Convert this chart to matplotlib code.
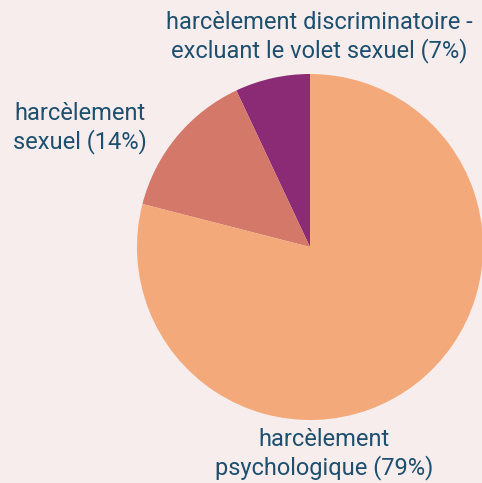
import matplotlib.pyplot as plt

# data, counterclockwise from the top
labels = ["harcèlement discriminatoire -\nexcluant le volet sexuel (7%)",
          "harcèlement\nsexuel (14%)",
          "harcèlement\npsychologique (79%)"]
values = [7, 14, 79]
colors = ["#8b2a75", "#d4786a", "#f3a97a"]
# label positions in pixels (x from left, y from top)
label_px = [(319, 37), (80, 128), (324, 454)]

W, H = 482, 483
cx, cy, r = 310, 247, 173

plt.rcParams['font.family'] = ['Roboto', 'DejaVu Sans']
bg = "#f7eded"
fig = plt.figure(figsize=(W / 100, H / 100), dpi=100, facecolor=bg)
ax = fig.add_axes([0, 0, 1, 1])
ax.set_facecolor(bg)

ax.pie(values, colors=colors, startangle=90, counterclock=True, radius=1,
       wedgeprops=dict(linewidth=0))

ax.set_xlim(-cx / r, (W - cx) / r)
ax.set_ylim(-(H - cy) / r, cy / r)
ax.set_aspect('equal')
ax.axis('off')

for lab, (px, py) in zip(labels, label_px):
    x = (px - cx) / r
    y = (cy - py) / r
    ax.text(x, y, lab, ha='center', va='center', fontsize=17,
            color="#1d4f6e", linespacing=1.2)

fig.savefig("out.png", dpi=100, facecolor=bg)
